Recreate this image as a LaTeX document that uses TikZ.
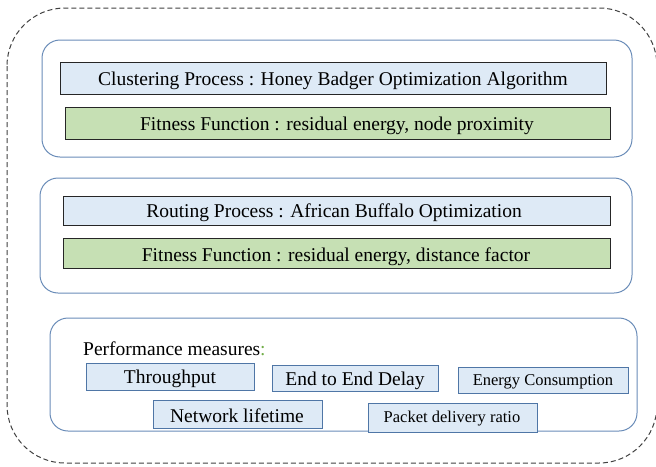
\documentclass[tikz,border=0pt]{standalone}
\usepackage{fontspec}
\setmainfont{Liberation Serif}
\definecolor{frameblue}{HTML}{6A8CB8}
\definecolor{boxblue}{HTML}{4F76A6}
\definecolor{lightblue}{HTML}{DEEAF6}
\definecolor{lightgreen}{HTML}{C6E0B4}
\definecolor{colongreen}{HTML}{70AD47}
\begin{document}
\begin{tikzpicture}[x=1pt,y=-1pt,
  outer/.style={draw=black!75, dash pattern=on 5pt off 3pt, line width=1pt, rounded corners=58pt},
  group/.style={draw=frameblue, line width=1pt, rounded corners=18pt},
  titlebox/.style={draw=black!85, fill=lightblue, line width=0.8pt},
  fitbox/.style={draw=black!85, fill=lightgreen, line width=0.8pt},
  measure/.style={draw=boxblue, fill=lightblue, line width=1pt},
  bigtext/.style={font=\fontsize{19.5}{22}\selectfont, yshift=-2.5pt},
  smalltext/.style={font=\fontsize{16.5}{19}\selectfont, yshift=-2pt}]
\useasboundingbox (0,0) rectangle (656,466);
% dashed frame round the whole method
\draw[outer] (7,8) rectangle (657,463);
% clustering stage
\draw[group] (42,40) rectangle (632,157);
\draw[titlebox] (60,62) rectangle (606,94);
\node[bigtext] (clus) at (333,78) {Clustering Process : Honey Badger Optimization Algorithm};
\draw[fitbox] (65,107) rectangle (610,139);
\node[bigtext] (fit1) at (337,123) {Fitness Function : residual energy, node proximity};
% routing stage
\draw[group] (40,178) rectangle (632,293);
\draw[titlebox] (63,196) rectangle (610,225);
\node[bigtext] (rout) at (334,210) {Routing Process : African Buffalo Optimization};
\draw[fitbox] (63,238) rectangle (610,268);
\node[bigtext] (fit2) at (336,254) {Fitness Function : residual energy, distance factor};
% performance measures
\draw[group] (50,318) rectangle (637,431);
\node[bigtext, anchor=west, inner sep=0pt, yshift=2.5pt] (perf) at (83,349) {Performance measures\textcolor{colongreen}{:}};
\draw[measure] (86,363) rectangle (254,390);
\node[bigtext] (thr) at (170,376) {Throughput};
\draw[measure] (272,365) rectangle (438,391);
\node[bigtext] (delay) at (355,378) {End to End Delay};
\draw[measure] (458,367) rectangle (628,393);
\node[smalltext] (energy) at (543,380) {Energy Consumption};
\draw[measure] (153,400) rectangle (322,428);
\node[bigtext] (life) at (237,413) {Network lifetime};
\draw[measure] (368,403) rectangle (537,432);
\node[smalltext] (pdr) at (452,417) {Packet delivery ratio};
\end{tikzpicture}
\end{document}
